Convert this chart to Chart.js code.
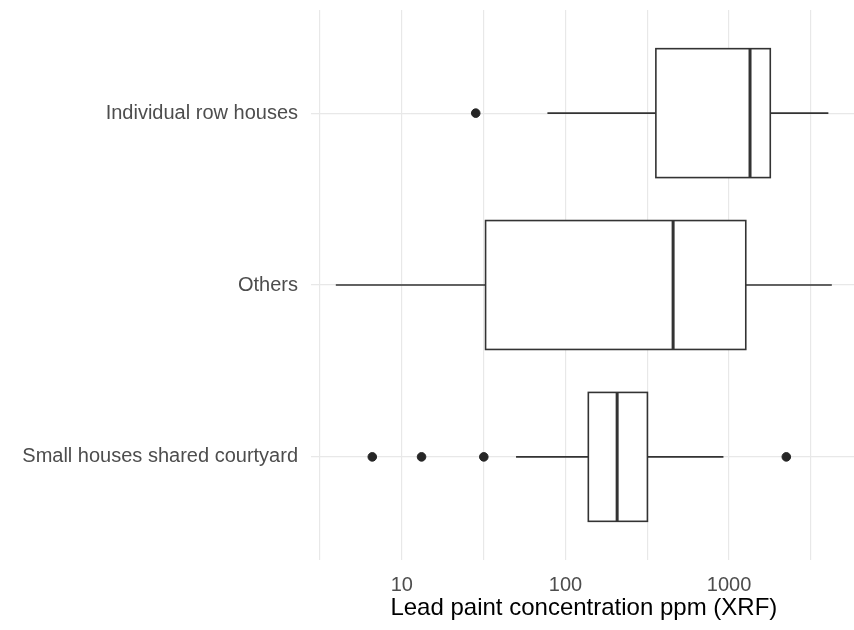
<!DOCTYPE html>
<html>
<head>
<meta charset="utf-8">
<script src="https://cdn.jsdelivr.net/npm/chart.js@4.4.0/dist/chart.umd.min.js"></script>
<style>
  html, body { margin: 0; padding: 0; background: #fff; overflow: hidden; }
  #wrap { width: 862px; height: 630px; }
</style>
</head>
<body>
<div id="wrap"><canvas id="chart"></canvas></div>
<script>
// groups from bottom (y = 1) to top (y = 3)
const categories = ['Small houses shared courtyard', 'Others', 'Individual row houses'];
const whiskerLow = [49.9, 3.95, 77.6];
const q1 = [138, 32.5, 357];
const medians = [207, 455, 1343];
const q3 = [317, 1265, 1786];
const whiskerHigh = [924, 4246, 4045];

// outliers: group index + value
const outlierGroup = [0, 0, 0, 0, 2];
const outlierValue = [6.6, 13.2, 31.7, 2238, 28.3];

const xTicks = [3.162, 10, 31.62, 100, 316.2, 1000, 3162];
const xTickLabels = ['', '10', '', '100', '', '1000', ''];
const xTitle = 'Lead paint concentration ppm (XRF)';

const FONT = 'Liberation Sans, Arial, Helvetica, sans-serif';
const INK = '#333333';

// draws the boxes, whiskers and medians from the arrays via the chart scales
const boxplotPlugin = {
  id: 'boxplot',
  beforeDatasetsDraw(chart) {
    const { ctx, scales: { x, y } } = chart;
    const half = 0.375;
    ctx.save();
    ctx.strokeStyle = INK;
    categories.forEach((_, i) => {
      const pos = i + 1;
      const yc = y.getPixelForValue(pos);
      const yTop = y.getPixelForValue(pos + half);
      const yBot = y.getPixelForValue(pos - half);
      const xLo = x.getPixelForValue(whiskerLow[i]);
      const xQ1 = x.getPixelForValue(q1[i]);
      const xMed = x.getPixelForValue(medians[i]);
      const xQ3 = x.getPixelForValue(q3[i]);
      const xHi = x.getPixelForValue(whiskerHigh[i]);

      // whiskers
      ctx.lineWidth = 1.6;
      ctx.beginPath();
      ctx.moveTo(xLo, yc); ctx.lineTo(xQ1, yc);
      ctx.moveTo(xQ3, yc); ctx.lineTo(xHi, yc);
      ctx.stroke();

      // box
      ctx.fillStyle = '#ffffff';
      ctx.fillRect(xQ1, yTop, xQ3 - xQ1, yBot - yTop);
      ctx.strokeRect(xQ1, yTop, xQ3 - xQ1, yBot - yTop);

      // median
      ctx.lineWidth = 3;
      ctx.beginPath();
      ctx.moveTo(xMed, yTop); ctx.lineTo(xMed, yBot);
      ctx.stroke();
    });
    ctx.restore();
  }
};

new Chart(document.getElementById('chart'), {
  type: 'scatter',
  data: {
    datasets: [{
      label: 'outliers',
      data: outlierValue.map((v, i) => ({ x: v, y: outlierGroup[i] + 1 })),
      backgroundColor: '#262626',
      borderColor: '#262626',
      pointRadius: 4.3,
      pointHoverRadius: 4.3,
    }],
  },
  options: {
    responsive: true,
    maintainAspectRatio: false,
    animation: false,
    layout: { padding: { top: 10, left: 0, right: 0, bottom: 0 } },
    plugins: {
      legend: { display: false },
      tooltip: { enabled: false },
    },
    scales: {
      x: {
        type: 'logarithmic',
        min: 2.786,
        max: 6026,
        afterBuildTicks: (scale) => { scale.ticks = xTicks.map(v => ({ value: v })); },
        afterFit: (scale) => {
          scale.height = 70;
          scale.paddingLeft = 0;
          scale.paddingRight = 0;
        },
        ticks: {
          autoSkip: false,
          maxRotation: 0,
          padding: 13,
          color: '#4d4d4d',
          font: { family: FONT, size: 20 },
          callback: (val, i) => xTickLabels[i],
        },
        grid: { color: '#e8e8e8', lineWidth: 1.2, drawTicks: false },
        border: { display: false },
        title: {
          display: true,
          text: xTitle,
          color: '#000000',
          font: { family: FONT, size: 24 },
          padding: { top: 0, bottom: 7 },
        },
      },
      y: {
        type: 'linear',
        min: 0.4,
        max: 3.6,
        afterBuildTicks: (scale) => { scale.ticks = categories.map((_, i) => ({ value: i + 1 })); },
        afterFit: (scale) => {
          scale.width = 311;
          scale.paddingTop = 0;
          scale.paddingBottom = 0;
        },
        ticks: {
          padding: 13,
          color: '#4d4d4d',
          font: { family: FONT, size: 20 },
          callback: (val) => categories[val - 1],
        },
        grid: { color: '#e8e8e8', lineWidth: 1.2, drawTicks: false },
        border: { display: false },
      },
    },
  },
  plugins: [boxplotPlugin],
});
</script>
</body>
</html>
